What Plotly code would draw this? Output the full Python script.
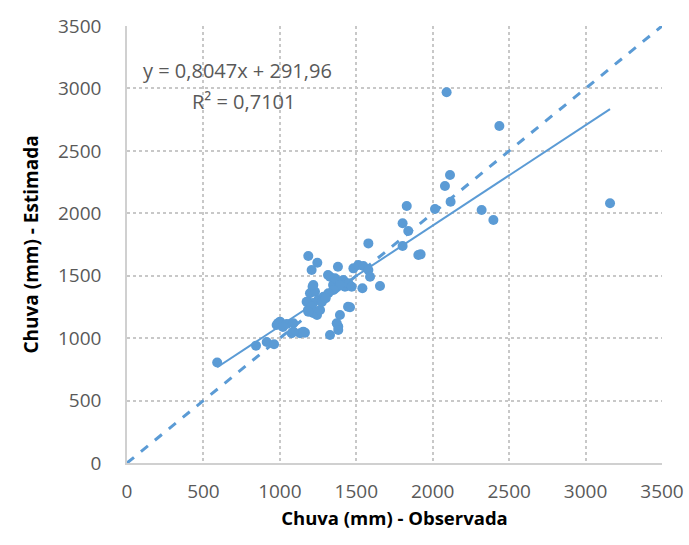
import plotly.graph_objects as go

# Observed vs estimated rainfall (mm)
observada = [590, 844, 914, 962, 1001, 979, 1045, 1077, 1132, 1164,
             1186, 1245, 1208, 1214, 1197, 1230, 1184, 1217, 1250, 1184,
             1217, 1243, 1328, 1382, 1393, 1380, 1315, 1348, 1393, 1426,
             1446, 1579, 1481, 1513, 1546, 1579, 1590, 1328, 1361, 1415,
             1448, 1470, 1393, 1350, 1219, 1285, 1317, 1175, 1208, 1186,
             1263, 1540, 1655, 1459, 1372, 1382, 1088, 1088, 1153, 1906,
             2113, 2080, 1830, 2015, 2117, 1803, 1840, 1803, 1921, 2320,
             2397, 2091, 2436, 3160, 988, 1020, 1275, 1300]
estimada = [805, 940, 969, 951, 1132, 1105, 1113, 1039, 1039, 1044,
            1658, 1604, 1546, 1412, 1359, 1372, 1289, 1281, 1305, 1225,
            1201, 1185, 1025, 1092, 1185, 1572, 1506, 1426, 1452, 1412,
            1252, 1759, 1559, 1586, 1578, 1546, 1492, 1492, 1479, 1466,
            1439, 1412, 1426, 1386, 1426, 1332, 1359, 1292, 1252, 1212,
            1225, 1399, 1418, 1247, 1119, 1065, 1119, 1052, 1052, 1666,
            2307, 2218, 2058, 2034, 2093, 1920, 1858, 1738, 1671, 2026,
            1946, 2969, 2699, 2080, 1120, 1090, 1290, 1320]

slope = 0.8047
intercept = 291.96
trend_x = [min(observada), max(observada)]
trend_y = [slope * v + intercept for v in trend_x]
ident = [0, 3500]
ticks = [0, 500, 1000, 1500, 2000, 2500, 3000, 3500]

blue = "#5b9bd5"
grey_txt = "#595959"
font_family = "Open Sans, Noto Sans, sans-serif"

fig = go.Figure()
fig.add_trace(go.Scatter(x=ident, y=ident, mode="lines",
                         line=dict(color=blue, width=3, dash="dash"),
                         hoverinfo="skip"))
fig.add_trace(go.Scatter(x=trend_x, y=trend_y, mode="lines",
                         line=dict(color=blue, width=2)))
fig.add_trace(go.Scatter(x=observada, y=estimada, mode="markers",
                         marker=dict(color=blue, size=10)))

fig.add_annotation(x=726, y=3147, text="y = 0,8047x + 291,96", showarrow=False,
                   font=dict(size=20, color=grey_txt, family=font_family))
fig.add_annotation(x=765, y=2899, text="R² = 0,7101", showarrow=False,
                   font=dict(size=20, color=grey_txt, family=font_family))

axis_common = dict(range=[0, 3500], tickvals=ticks, showgrid=True,
                   gridcolor="#c8c8c8", griddash="dot", gridwidth=1.5,
                   zeroline=False, showline=True, linecolor="#d0d0d0",
                   linewidth=1.5, ticks="",
                   tickfont=dict(size=19, color=grey_txt, family=font_family))

fig.update_layout(
    width=689, height=545,
    margin=dict(l=127, r=27, t=26, b=82, autoexpand=False),
    paper_bgcolor="white", plot_bgcolor="white",
    showlegend=False,
    xaxis=dict(**axis_common, ticklabelstandoff=10,
               title=dict(text="<b>Chuva (mm) - Observada</b>", standoff=10,
                          font=dict(size=18.5, color="black", family=font_family))),
    yaxis=dict(**axis_common, ticklabelstandoff=20,
               title=dict(text="<b>Chuva (mm) - Estimada</b>", standoff=14,
                          font=dict(size=19, color="black", family=font_family))),
)

fig.write_html("out.html")
